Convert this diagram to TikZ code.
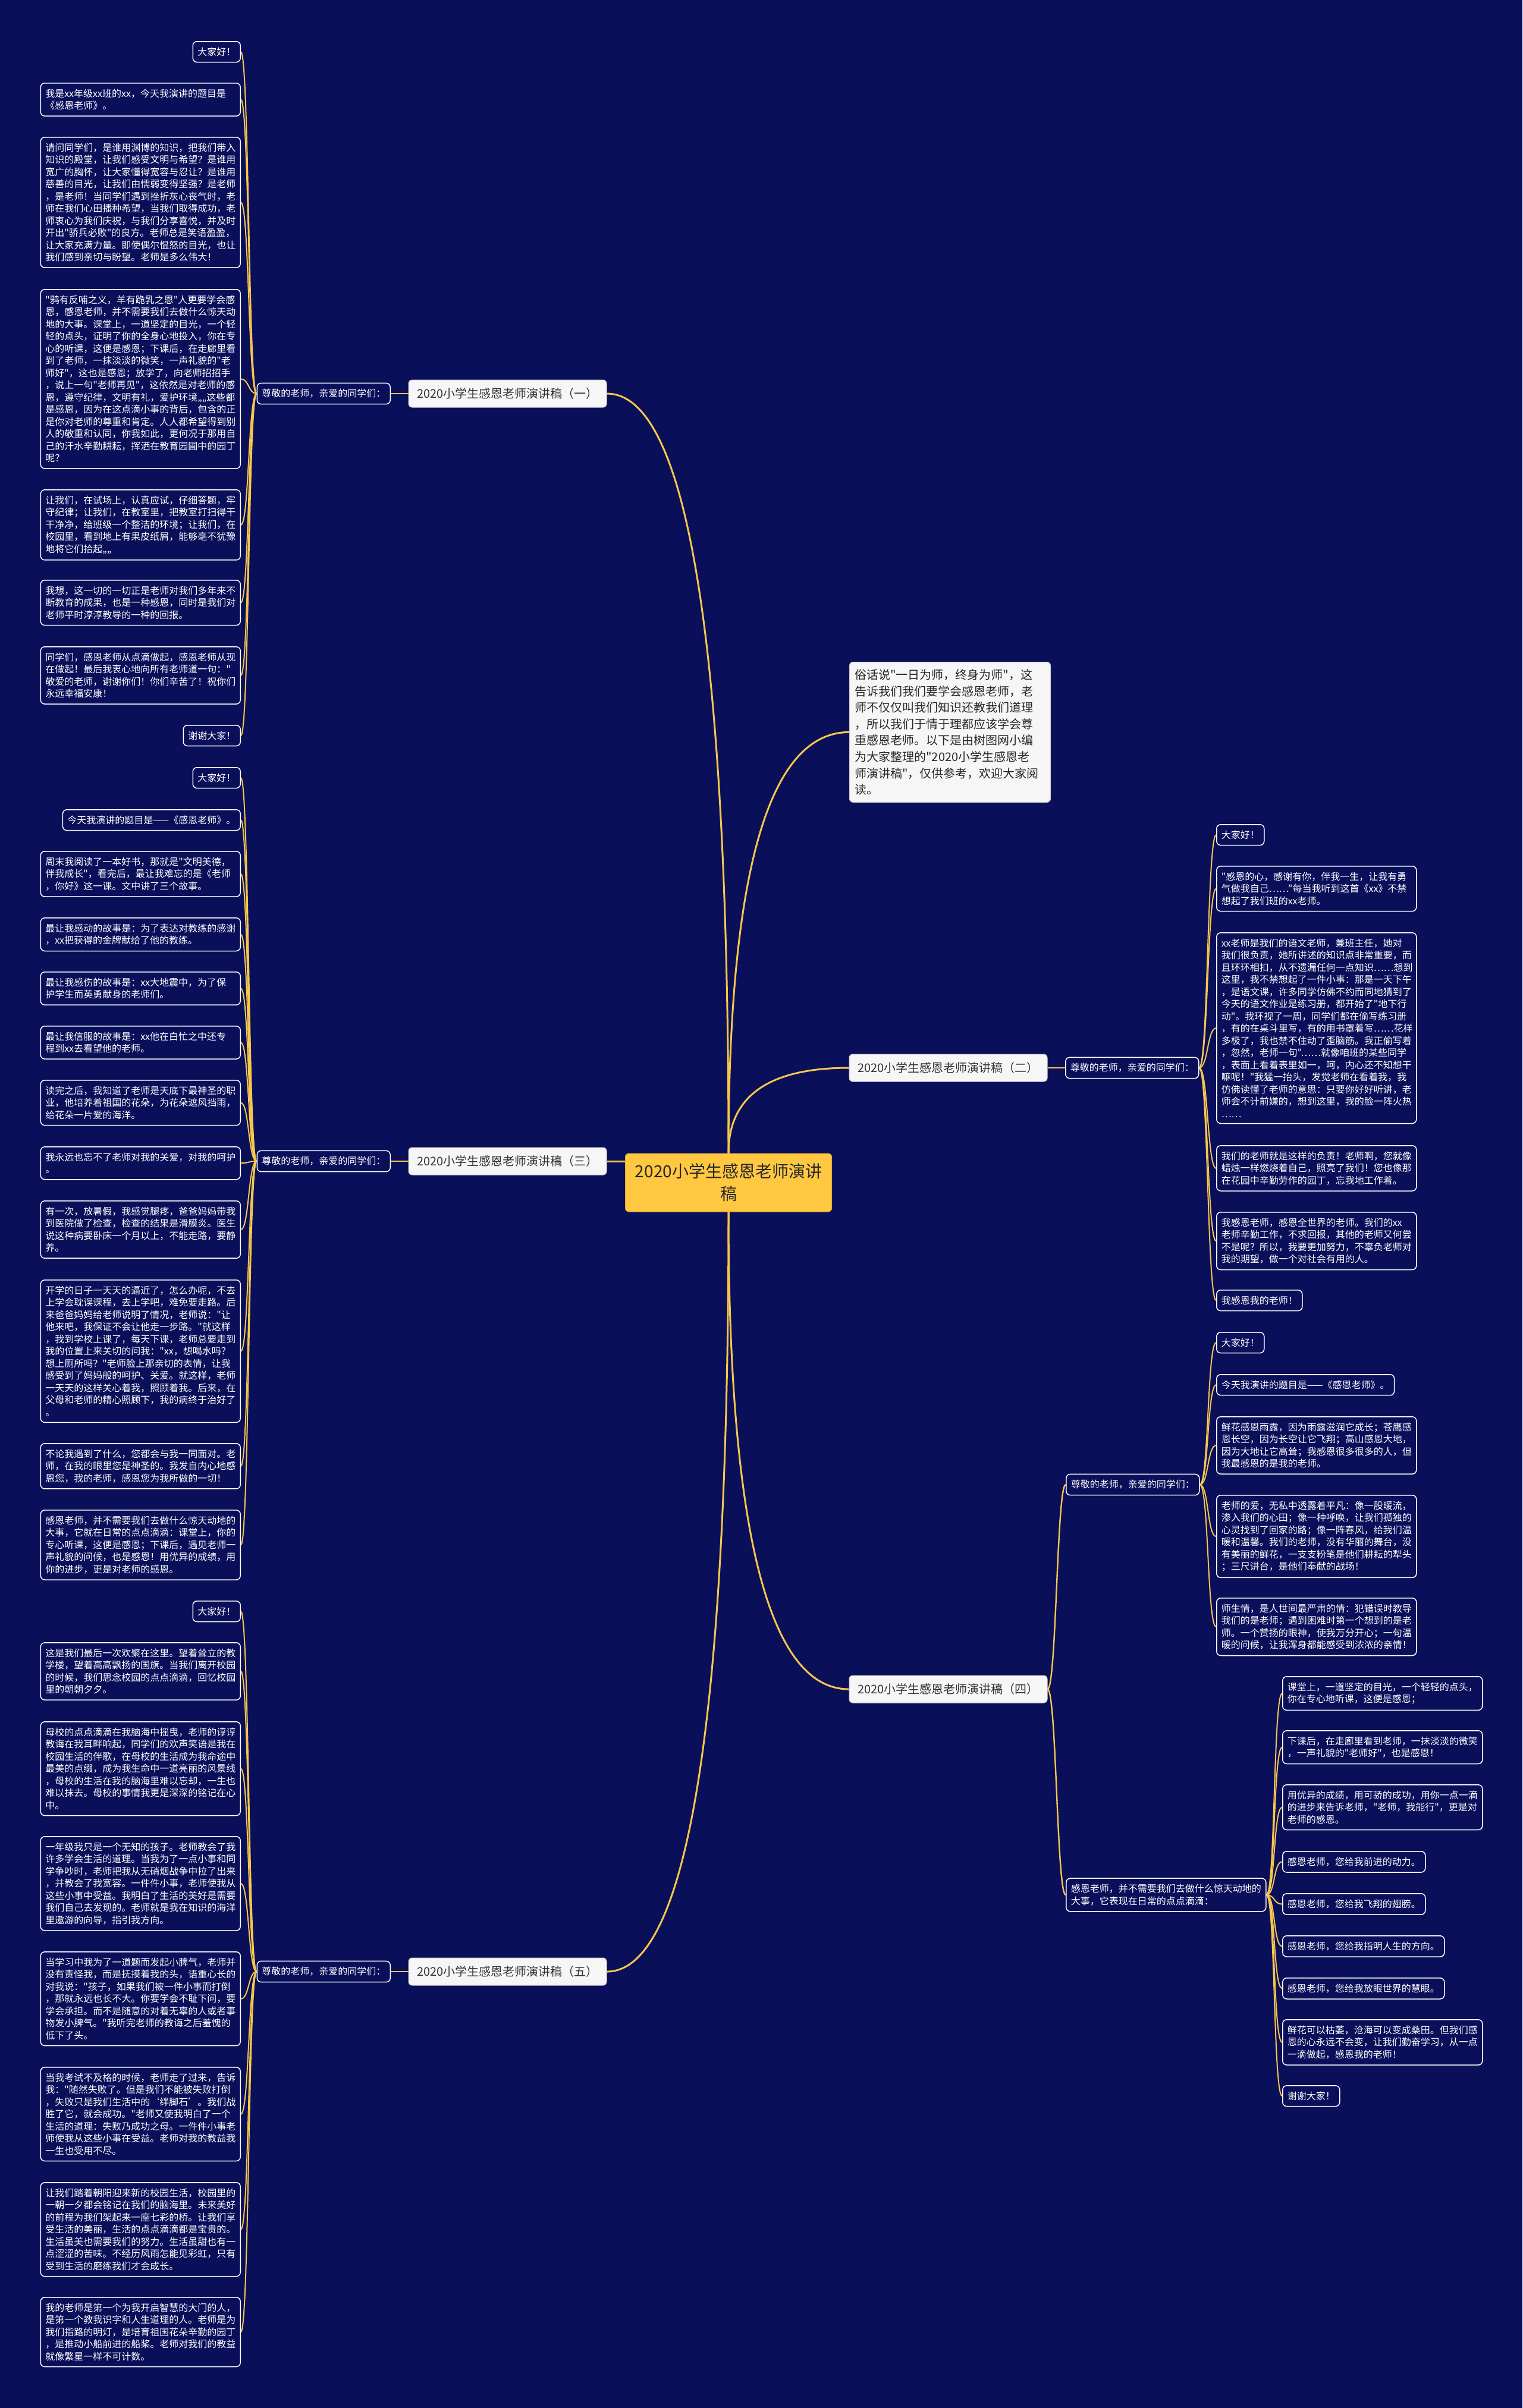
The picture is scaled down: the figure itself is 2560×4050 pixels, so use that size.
\documentclass[tikz,border=0pt]{standalone}
\usepackage{fontspec}
\newfontfamily\cjk{Noto Sans CJK SC}
\usetikzlibrary{calc}
\definecolor{bgc}{RGB}{10,15,90}
\definecolor{linec}{RGB}{247,199,76}
\definecolor{rootc}{RGB}{255,200,64}
\definecolor{branchc}{RGB}{246,246,246}
\pgfdeclarelayer{back}
\pgfdeclarelayer{lines}
\pgfsetlayers{back,lines,main}
\tikzset{
  leafbox/.style={draw=white, line width=1.5pt, rounded corners=7pt, fill=bgc, text=white,
    font=\cjk\fontsize{16}{20.5}\selectfont, align=left, inner xsep=8pt, inner ysep=10pt},
  wide/.style={leafbox, text width=320pt},
  subbox/.style={leafbox},
  branchbox/.style={draw=gray!40, line width=1pt, fill=branchc, text=black!80, rounded corners=6pt,
    font=\cjk\fontsize{20}{24}\selectfont, minimum width=333pt, minimum height=46pt, inner xsep=10pt},
  rootbox/.style={fill=rootc, draw=rootc!85!black, line width=1pt, rounded corners=6pt, text=black!85,
    font=\cjk\fontsize{28}{38}\selectfont, align=center, minimum width=347pt, minimum height=98pt},
  introbox/.style={fill=branchc, draw=gray!40, line width=1pt, rounded corners=6pt, text=black!85,
    font=\cjk\fontsize{20}{27.6}\selectfont, align=left, text width=320pt, inner xsep=9pt, inner ysep=12pt},
  mainline/.style={draw=linec, line width=3pt},
  subline/.style={draw=linec, line width=2.4pt},
  leafline/.style={draw=linec, line width=2pt}
}
\newcommand{\quadto}[3]{($(#1)!.667!(#3)$) and ($(#2)!.667!(#3)$)}
\begin{document}
\begin{tikzpicture}[x=1pt,y=-1pt]
\useasboundingbox (0,0) rectangle (2560,4050);
\begin{pgfonlayer}{back}
\fill[bgc] (0,0) rectangle (2560,4050);
\end{pgfonlayer}

% ---------- root, intro, branches ----------
\node[rootbox] (root) at (1225,1989) {2020小学生感恩老师演讲\\稿};
\node[introbox, anchor=north west] (intro) at (1428,1113) {俗话说"一日为师，终身为师"，这\\告诉我们我们要学会感恩老师，老\\师不仅仅叫我们知识还教我们道理\\，所以我们于情于理都应该学会尊\\重感恩老师。以下是由树图网小编\\为大家整理的"2020小学生感恩老\\师演讲稿"，仅供参考，欢迎大家阅\\读。};
\node[branchbox] (b1) at (853.5,662) {2020小学生感恩老师演讲稿（一）};
\node[branchbox] (b2) at (1594.5,1796) {2020小学生感恩老师演讲稿（二）};
\node[branchbox] (b3) at (853.5,1953) {2020小学生感恩老师演讲稿（三）};
\node[branchbox] (b4) at (1594.5,2841) {2020小学生感恩老师演讲稿（四）};
\node[branchbox] (b5) at (853.5,3316) {2020小学生感恩老师演讲稿（五）};

% ---------- sub nodes ----------
\node[subbox, anchor=east] (s1) at (657,662) {尊敬的老师，亲爱的同学们：};
\node[subbox, anchor=west] (s2) at (1791,1796) {尊敬的老师，亲爱的同学们：};
\node[subbox, anchor=east] (s3) at (657,1953) {尊敬的老师，亲爱的同学们：};
\node[subbox, anchor=west] (s4a) at (1792,2497) {尊敬的老师，亲爱的同学们：};
\node[subbox, anchor=west, align=left] (s4b) at (1792,3187) {感恩老师，并不需要我们去做什么惊天动地的\\大事，它表现在日常的点点滴滴：};
\node[subbox, anchor=east] (s5) at (657,3316) {尊敬的老师，亲爱的同学们：};

% ---------- section one ----------
\node[leafbox, anchor=north east] (a1) at (405,69) {大家好！};
\node[wide, anchor=north east] (a2) at (405,139) {我是xx年级xx班的xx，今天我演讲的题目是\\《感恩老师》。};
\node[wide, anchor=north east] (a3) at (405,230) {请问同学们，是谁用渊博的知识，把我们带入\\知识的殿堂，让我们感受文明与希望？是谁用\\宽广的胸怀，让大家懂得宽容与忍让？是谁用\\慈善的目光，让我们由懦弱变得坚强？是老师\\，是老师！当同学们遇到挫折灰心丧气时，老\\师在我们心田播种希望，当我们取得成功，老\\师衷心为我们庆祝，与我们分享喜悦，并及时\\开出"骄兵必败"的良方。老师总是笑语盈盈，\\让大家充满力量。即使偶尔愠怒的目光，也让\\我们感到亲切与盼望。老师是多么伟大！};
\node[wide, anchor=north east] (a4) at (405,486) {"鸦有反哺之义，羊有跪乳之恩"人更要学会感\\恩，感恩老师，并不需要我们去做什么惊天动\\地的大事。课堂上，一道坚定的目光，一个轻\\轻的点头，证明了你的全身心地投入，你在专\\心的听课，这便是感恩；下课后，在走廊里看\\到了老师，一抹淡淡的微笑，一声礼貌的"老\\师好"，这也是感恩；放学了，向老师招招手\\，说上一句"老师再见"，这依然是对老师的感\\恩，遵守纪律，文明有礼，爱护环境„„这些都\\是感恩，因为在这点滴小事的背后，包含的正\\是你对老师的尊重和肯定。人人都希望得到别\\人的敬重和认同，你我如此，更何况于那用自\\己的汗水辛勤耕耘，挥洒在教育园圃中的园丁\\呢？};
\node[wide, anchor=north east] (a5) at (405,823) {让我们，在试场上，认真应试，仔细答题，牢\\守纪律；让我们，在教室里，把教室打扫得干\\干净净，给班级一个整洁的环境；让我们，在\\校园里，看到地上有果皮纸屑，能够毫不犹豫\\地将它们拾起„„};
\node[wide, anchor=north east] (a6) at (405,975) {我想，这一切的一切正是老师对我们多年来不\\断教育的成果，也是一种感恩，同时是我们对\\老师平时淳淳教导的一种的回报。};
\node[wide, anchor=north east] (a7) at (405,1087) {同学们，感恩老师从点滴做起，感恩老师从现\\在做起！最后我衷心地向所有老师道一句："\\敬爱的老师，谢谢你们！你们辛苦了！祝你们\\永远幸福安康！};
\node[leafbox, anchor=north east] (a8) at (405,1219) {谢谢大家！};

% ---------- section three ----------
\node[leafbox, anchor=north east] (m1) at (405,1290) {大家好！};
\node[leafbox, anchor=north east] (m2) at (405,1361) {今天我演讲的题目是——《感恩老师》。};
\node[wide, anchor=north east] (m3) at (405,1431) {周末我阅读了一本好书，那就是"文明美德，\\伴我成长"，看完后，最让我难忘的是《老师\\，你好》这一课。文中讲了三个故事。};
\node[wide, anchor=north east] (m4) at (405,1543) {最让我感动的故事是：为了表达对教练的感谢\\，xx把获得的金牌献给了他的教练。};
\node[wide, anchor=north east] (m5) at (405,1634) {最让我感伤的故事是：xx大地震中，为了保\\护学生而英勇献身的老师们。};
\node[wide, anchor=north east] (m6) at (405,1725) {最让我信服的故事是：xx他在白忙之中还专\\程到xx去看望他的老师。};
\node[wide, anchor=north east] (m7) at (405,1816) {读完之后，我知道了老师是天底下最神圣的职\\业，他培养着祖国的花朵，为花朵遮风挡雨，\\给花朵一片爱的海洋。};
\node[wide, anchor=north east] (m8) at (405,1928) {我永远也忘不了老师对我的关爱，对我的呵护\\。};
\node[wide, anchor=north east] (m9) at (405,2019) {有一次，放暑假，我感觉腿疼，爸爸妈妈带我\\到医院做了检查，检查的结果是滑膜炎。医生\\说这种病要卧床一个月以上，不能走路，要静\\养。};
\node[wide, anchor=north east] (m10) at (405,2152) {开学的日子一天天的逼近了，怎么办呢，不去\\上学会耽误课程，去上学吧，难免要走路。后\\来爸爸妈妈给老师说明了情况，老师说："让\\他来吧，我保证不会让他走一步路。"就这样\\，我到学校上课了，每天下课，老师总要走到\\我的位置上来关切的问我："xx，想喝水吗？\\想上厕所吗？"老师脸上那亲切的表情，让我\\感受到了妈妈般的呵护、关爱。就这样，老师\\一天天的这样关心着我，照顾着我。后来，在\\父母和老师的精心照顾下，我的病终于治好了\\。};
\node[wide, anchor=north east] (m11) at (405,2427) {不论我遇到了什么，您都会与我一同面对。老\\师，在我的眼里您是神圣的。我发自内心地感\\恩您，我的老师，感恩您为我所做的一切！};
\node[wide, anchor=north east] (m12) at (405,2539) {感恩老师，并不需要我们去做什么惊天动地的\\大事，它就在日常的点点滴滴：课堂上，你的\\专心听课，这便是感恩；下课后，遇见老师一\\声礼貌的问候，也是感恩！用优异的成绩，用\\你的进步，更是对老师的感恩。};

% ---------- section five ----------
\node[leafbox, anchor=north east] (n1) at (405,2692) {大家好！};
\node[wide, anchor=north east] (n2) at (405,2762) {这是我们最后一次欢聚在这里。望着耸立的教\\学楼，望着高高飘扬的国旗。当我们离开校园\\的时候，我们思念校园的点点滴滴，回忆校园\\里的朝朝夕夕。};
\node[wide, anchor=north east] (n3) at (405,2895) {母校的点点滴滴在我脑海中摇曳，老师的谆谆\\教诲在我耳畔响起，同学们的欢声笑语是我在\\校园生活的伴歌，在母校的生活成为我命途中\\最美的点缀，成为我生命中一道亮丽的风景线\\，母校的生活在我的脑海里难以忘却，一生也\\难以抹去。母校的事情我更是深深的铭记在心\\中。};
\node[wide, anchor=north east] (n4) at (405,3088) {一年级我只是一个无知的孩子。老师教会了我\\许多学会生活的道理。当我为了一点小事和同\\学争吵时，老师把我从无硝烟战争中拉了出来\\，并教会了我宽容。一件件小事，老师使我从\\这些小事中受益。我明白了生活的美好是需要\\我们自己去发现的。老师就是我在知识的海洋\\里遨游的向导，指引我方向。};
\node[wide, anchor=north east] (n5) at (405,3282) {当学习中我为了一道题而发起小脾气，老师并\\没有责怪我，而是抚摸着我的头，语重心长的\\对我说："孩子，如果我们被一件小事而打倒\\，那就永远也长不大。你要学会不耻下问，要\\学会承担。而不是随意的对着无辜的人或者事\\物发小脾气。"我听完老师的教诲之后羞愧的\\低下了头。};
\node[wide, anchor=north east] (n6) at (405,3476) {当我考试不及格的时候，老师走了过来，告诉\\我："随然失败了。但是我们不能被失败打倒\\，失败只是我们生活中的‘绊脚石’。我们战\\胜了它，就会成功。"老师又使我明白了一个\\生活的道理：失败乃成功之母。一件件小事老\\师使我从这些小事在受益。老师对我的教益我\\一生也受用不尽。};
\node[wide, anchor=north east] (n7) at (405,3670) {让我们踏着朝阳迎来新的校园生活，校园里的\\一朝一夕都会铭记在我们的脑海里。未来美好\\的前程为我们架起来一座七彩的桥。让我们享\\受生活的美丽，生活的点点滴滴都是宝贵的。\\生活虽美也需要我们的努力。生活虽甜也有一\\点涩涩的苦味。不经历风雨怎能见彩虹，只有\\受到生活的磨练我们才会成长。};
\node[wide, anchor=north east] (n8) at (405,3863) {我的老师是第一个为我开启智慧的大门的人，\\是第一个教我识字和人生道理的人。老师是为\\我们指路的明灯，是培育祖国花朵辛勤的园丁\\，是推动小船前进的船桨。老师对我们的教益\\就像繁星一样不可计数。};

% ---------- section two ----------
\node[leafbox, anchor=north west] (r1) at (2045,1386) {大家好！};
\node[wide, anchor=north west] (r2) at (2045,1456) {"感恩的心，感谢有你，伴我一生，让我有勇\\气做我自己……"每当我听到这首《xx》不禁\\想起了我们班的xx老师。};
\node[wide, anchor=north west] (r3) at (2045,1568) {xx老师是我们的语文老师，兼班主任，她对\\我们很负责，她所讲述的知识点非常重要，而\\且环环相扣，从不遗漏任何一点知识……想到\\这里，我不禁想起了一件小事：那是一天下午\\，是语文课，许多同学仿佛不约而同地猜到了\\今天的语文作业是练习册，都开始了"地下行\\动"。我环视了一周，同学们都在偷写练习册\\，有的在桌斗里写，有的用书罩着写……花样\\多极了，我也禁不住动了歪脑筋。我正偷写着\\，忽然，老师一句"……就像咱班的某些同学\\，表面上看着表里如一，呵，内心还不知想干\\嘛呢！"我猛一抬头，发觉老师在看着我，我\\仿佛读懂了老师的意思：只要你好好听讲，老\\师会不计前嫌的，想到这里，我的脸一阵火热\\……};
\node[wide, anchor=north west] (r4) at (2045,1926) {我们的老师就是这样的负责！老师啊，您就像\\蜡烛一样燃烧着自己，照亮了我们！您也像那\\在花园中辛勤劳作的园丁，忘我地工作着。};
\node[wide, anchor=north west] (r5) at (2045,2038) {我感恩老师，感恩全世界的老师。我们的xx\\老师辛勤工作，不求回报，其他的老师又何尝\\不是呢？所以，我要更加努力，不辜负老师对\\我的期望，做一个对社会有用的人。};
\node[leafbox, anchor=north west] (r6) at (2045,2169) {我感恩我的老师！};

% ---------- section four ----------
\node[leafbox, anchor=north west] (p1) at (2045,2240) {大家好！};
\node[leafbox, anchor=north west] (p2) at (2045,2311) {今天我演讲的题目是——《感恩老师》。};
\node[wide, anchor=north west] (p3) at (2045,2382) {鲜花感恩雨露，因为雨露滋润它成长；苍鹰感\\恩长空，因为长空让它飞翔；高山感恩大地，\\因为大地让它高耸；我感恩很多很多的人，但\\我最感恩的是我的老师。};
\node[wide, anchor=north west] (p4) at (2045,2514) {老师的爱，无私中透露着平凡：像一股暖流，\\渗入我们的心田；像一种呼唤，让我们孤独的\\心灵找到了回家的路；像一阵春风，给我们温\\暖和温馨。我们的老师，没有华丽的舞台，没\\有美丽的鲜花，一支支粉笔是他们耕耘的犁头\\；三尺讲台，是他们奉献的战场！};
\node[wide, anchor=north west] (p5) at (2045,2687) {师生情，是人世间最严肃的情：犯错误时教导\\我们的是老师；遇到困难时第一个想到的是老\\师。一个赞扬的眼神，使我万分开心；一句温\\暖的问候，让我浑身都能感受到浓浓的亲情！};

\node[wide, anchor=north west] (q1) at (2156,2819) {课堂上，一道坚定的目光，一个轻轻的点头，\\你在专心地听课，这便是感恩；};
\node[wide, anchor=north west] (q2) at (2156,2910) {下课后，在走廊里看到老师，一抹淡淡的微笑\\，一声礼貌的"老师好"，也是感恩！};
\node[wide, anchor=north west] (q3) at (2156,3001) {用优异的成绩，用可骄的成功，用你一点一滴\\的进步来告诉老师，"老师，我能行"，更是对\\老师的感恩。};
\node[leafbox, anchor=north west] (q4) at (2156,3113) {感恩老师，您给我前进的动力。};
\node[leafbox, anchor=north west] (q5) at (2156,3184) {感恩老师，您给我飞翔的翅膀。};
\node[leafbox, anchor=north west] (q6) at (2156,3255) {感恩老师，您给我指明人生的方向。};
\node[leafbox, anchor=north west] (q7) at (2156,3326) {感恩老师，您给我放眼世界的慧眼。};
\node[wide, anchor=north west] (q8) at (2156,3396) {鲜花可以枯萎，沧海可以变成桑田。但我们感\\恩的心永远不会变，让我们勤奋学习，从一点\\一滴做起，感恩我的老师！};
\node[leafbox, anchor=north west] (q9) at (2156,3507) {谢谢大家！};

% ---------- connectors ----------
\begin{pgfonlayer}{lines}
\draw[mainline] (root.north) .. controls \quadto{root.north}{b1.east}{root.north |- b1.east} .. (b1.east);
\draw[mainline] (root.north) .. controls \quadto{root.north}{intro.west}{root.north |- intro.west} .. (intro.west);
\draw[mainline] (root.north) .. controls \quadto{root.north}{b2.west}{root.north |- b2.west} .. (b2.west);
\draw[mainline] (b3.east) -- (b3.east -| root.west);
\draw[mainline] (root.south) .. controls \quadto{root.south}{b4.west}{root.south |- b4.west} .. (b4.west);
\draw[mainline] (root.south) .. controls \quadto{root.south}{b5.east}{root.south |- b5.east} .. (b5.east);

\draw[subline] (b1.west) -- (s1.east);
\draw[subline] (b2.east) -- (s2.west);
\draw[subline] (b3.west) -- (s3.east);
\draw[subline] (b5.west) -- (s5.east);
\draw[subline] (b4.east) .. controls +(15,0) and +(-15,0) .. (s4a.west);
\draw[subline] (b4.east) .. controls +(15,0) and +(-15,0) .. (s4b.west);

\foreach \n in {a1,a2,a3,a4,a5,a6,a7,a8}
  \draw[leafline] (s1.west) .. controls +(-14,0) and +(14,0) .. (\n.east);
\foreach \n in {m1,m2,m3,m4,m5,m6,m7,m8,m9,m10,m11,m12}
  \draw[leafline] (s3.west) .. controls +(-14,0) and +(14,0) .. (\n.east);
\foreach \n in {n1,n2,n3,n4,n5,n6,n7,n8}
  \draw[leafline] (s5.west) .. controls +(-14,0) and +(14,0) .. (\n.east);
\foreach \n in {r1,r2,r3,r4,r5,r6}
  \draw[leafline] (s2.east) .. controls +(15,0) and +(-15,0) .. (\n.west);
\foreach \n in {p1,p2,p3,p4,p5}
  \draw[leafline] (s4a.east) .. controls +(15,0) and +(-15,0) .. (\n.west);
\foreach \n in {q1,q2,q3,q4,q5,q6,q7,q8,q9}
  \draw[leafline] (s4b.east) .. controls +(15,0) and +(-15,0) .. (\n.west);
\end{pgfonlayer}
\end{tikzpicture}
\end{document}
